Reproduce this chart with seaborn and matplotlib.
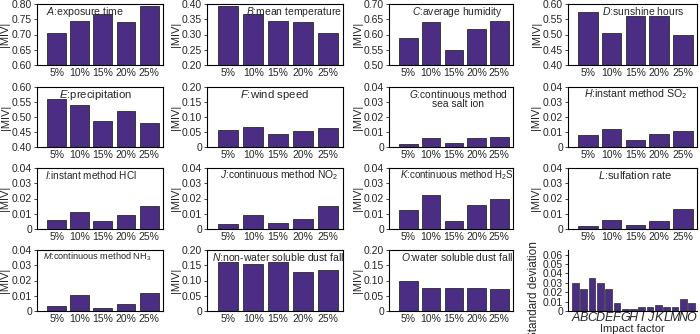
import matplotlib
matplotlib.use('Agg')
import matplotlib.pyplot as plt
import seaborn as sns
from matplotlib.ticker import FuncFormatter, MultipleLocator

# data
pct = ['5%', '10%', '15%', '20%', '25%']
exposure_time = [0.705, 0.745, 0.768, 0.741, 0.795]
mean_temperature = [0.395, 0.367, 0.344, 0.340, 0.305]
average_humidity = [0.588, 0.642, 0.548, 0.618, 0.643]
sunshine_hours = [0.575, 0.506, 0.560, 0.560, 0.500]
precipitation = [0.560, 0.540, 0.488, 0.521, 0.481]
wind_speed = [0.058, 0.067, 0.042, 0.055, 0.062]
sea_salt_ion = [0.002, 0.006, 0.0027, 0.006, 0.007]
so2 = [0.0078, 0.012, 0.0045, 0.0088, 0.011]
hcl = [0.0062, 0.0113, 0.005, 0.009, 0.015]
no2 = [0.003, 0.009, 0.0038, 0.0065, 0.015]
h2s = [0.0125, 0.022, 0.0055, 0.0155, 0.0195]
sulfation_rate = [0.0018, 0.0062, 0.0028, 0.0052, 0.013]
nh3 = [0.003, 0.0105, 0.002, 0.0045, 0.0115]
insoluble_dust = [0.160, 0.153, 0.160, 0.127, 0.136]
soluble_dust = [0.099, 0.074, 0.077, 0.074, 0.072]

factors = list('ABCDEFGHIJKLMNO')
std_dev = [0.030, 0.023, 0.035, 0.030, 0.023, 0.0088, 0.0018, 0.0018,
           0.0038, 0.0038, 0.006, 0.004, 0.004, 0.013, 0.0088]

titles = [
    '$\\mathit{A}$:exposure time', '$\\mathit{B}$:mean temperature',
    '$\\mathit{C}$:average humidity', '$\\mathit{D}$:sunshine hours',
    '$\\mathit{E}$:precipitation', '$\\mathit{F}$:wind speed',
    '$\\mathit{G}$:continuous method\nsea salt ion',
    '$\\mathit{H}$:instant method $\\mathrm{SO_2}$',
    '$\\mathit{I}$:instant method HCl',
    '$\\mathit{J}$:continuous method $\\mathrm{NO_2}$',
    '$\\mathit{K}$:continuous method $\\mathrm{H_2S}$',
    '$\\mathit{L}$:sulfation rate',
    '$\\mathit{M}$:continuous method $\\mathrm{NH_3}$',
    '$\\mathit{N}$:non-water soluble dust fall',
    '$\\mathit{O}$:water soluble dust fall',
]
series = [exposure_time, mean_temperature, average_humidity, sunshine_hours,
          precipitation, wind_speed, sea_salt_ion, so2, hcl, no2, h2s,
          sulfation_rate, nh3, insoluble_dust, soluble_dust]
y_ranges = [(0.60, 0.80), (0.20, 0.40), (0.50, 0.70), (0.40, 0.60),
            (0.40, 0.60), (0.0, 0.20), (0.0, 0.04), (0.0, 0.04),
            (0.0, 0.04), (0.0, 0.04), (0.0, 0.04), (0.0, 0.04),
            (0.0, 0.04), (0.0, 0.20), (0.0, 0.20)]

# title layout (centre in px, font size)
title_center = [85, 294, 457, 643, 96, 274, 458, 636, 91, 279, 457, 635, 97, 278, 457]
title_size = [7.6, 7.5, 7.4, 7.5, 8.2, 8.2, 7.4, 7.6, 7.2, 7.4, 7.0, 8.0, 6.6, 7.5, 7.5]

sns.set_theme(style='ticks')
plt.rcParams['font.family'] = ['Liberation Sans', 'DejaVu Sans']
plt.rcParams['mathtext.fontset'] = 'custom'
plt.rcParams['mathtext.rm'] = 'Liberation Sans'
plt.rcParams['mathtext.it'] = 'Liberation Sans:italic'

BAR = '#4b2e83'
EDGE = '#2b2b2b'
W, H = 700, 334
cols = [(37, 163), (207, 343), (389, 513), (568, 697)]
rows = [(4, 65), (87, 147), (168, 229), (250, 311)]

fig = plt.figure(figsize=(7, 3.34), dpi=100)


def add_ax(c, r):
    x0, x1 = cols[c]
    y0, y1 = rows[r]
    return fig.add_axes([x0 / W, 1 - y1 / H, (x1 - x0) / W, (y1 - y0) / H])


def fmt(v, pos):
    return '0' if abs(v) < 1e-9 else f'{v:.2f}'


for i, vals in enumerate(series):
    r, c = divmod(i, 4)
    lo, hi = y_ranges[i]
    ax = add_ax(c, r)
    sns.barplot(x=pct, y=vals, color=BAR, saturation=1, width=0.82,
                edgecolor=EDGE, linewidth=0.6, ax=ax)
    ax.set_ylim(lo, hi)
    ax.set_xlim(-0.85, 4.6)
    step = 0.01 if hi <= 0.04 else 0.05
    ax.yaxis.set_major_locator(MultipleLocator(step))
    ax.yaxis.set_major_formatter(FuncFormatter(fmt))
    ax.tick_params(axis='y', direction='out', length=2.5, width=0.6, labelsize=7.5, pad=1)
    ax.tick_params(axis='x', length=0, labelsize=7.5, pad=2)
    for s in ax.spines.values():
        s.set_linewidth(0.8)
        s.set_color('black')
    ax.set_ylabel('|MIV|', fontsize=8, labelpad=1)
    ax.set_xlabel('')
    x0, x1 = cols[c]
    tx = (title_center[i] - x0) / (x1 - x0)
    ax.text(tx, 0.99, titles[i], transform=ax.transAxes, ha='center', va='top',
            multialignment='center', fontsize=title_size[i], linespacing=0.95,
            zorder=5)

# standard deviation panel
ax = add_ax(3, 3)
sns.barplot(x=factors, y=std_dev, color=BAR, saturation=1, width=0.82,
            edgecolor=EDGE, linewidth=0.5, ax=ax)
ax.set_ylim(0, 0.065)
ax.set_xlim(-0.9, 14.66)
ax.yaxis.set_major_locator(MultipleLocator(0.01))
ax.yaxis.set_major_formatter(FuncFormatter(fmt))
ax.tick_params(axis='y', direction='out', length=2.5, width=0.6, labelsize=7.5, pad=1)
ax.tick_params(axis='x', length=0, labelsize=9, pad=1)
for lab in ax.get_xticklabels():
    lab.set_fontstyle('italic')
sns.despine(ax=ax)
for s in ax.spines.values():
    s.set_linewidth(0.8)
    s.set_color('black')
ax.set_xlabel('Impact factor', fontsize=8, labelpad=0)
ax.set_ylabel('Standard deviation', fontsize=8.5)
ax.yaxis.set_label_coords(-0.22, 0.35)

fig.savefig('out.png', dpi=100)
